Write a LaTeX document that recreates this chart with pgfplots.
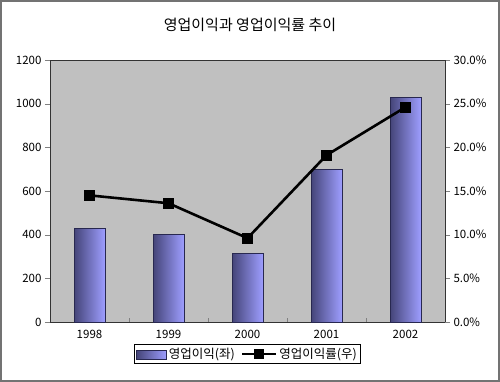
\documentclass[border=0pt]{standalone}
\usepackage{pgfplots}
\pgfplotsset{compat=1.18}
\usepackage{fontspec}
\setmainfont{Noto Sans CJK KR}
\definecolor{plotgray}{RGB}{192,192,192}
\definecolor{bardark}{RGB}{68,68,120}
\definecolor{barlight}{RGB}{158,158,255}
\definecolor{barmid}{RGB}{140,140,230}
\definecolor{baredge}{RGB}{40,40,80}
\begin{document}
\begin{tikzpicture}[x=1pt,y=1pt]
\draw[line width=2pt, black!55] (1,-1) rectangle (499,-381);
\node[font=\fontsize{15}{17}\selectfont] at (250,-25) {영업이익과 영업이익률 추이};
\begin{axis}[
  at={(50pt,-322pt)}, anchor=south west,
  scale only axis, width=395pt, height=262pt,
  xmin=-0.5, xmax=4.5, ymin=0, ymax=1200,
  ytick={0,200,...,1200},
  xtick={0,1,2,3,4}, xticklabels={1998,1999,2000,2001,2002},
  major x tick style={draw=none},
  minor xtick={0.5,1.5,2.5,3.5},
  minor x tick style={yshift=4pt},
  minor tick length=4pt,
  major tick length=5pt,
  tick align=outside,
  ytick pos=left, xtick pos=bottom,
  axis line style={black!80},
  axis background/.style={fill=plotgray},
  tick label style={font=\fontsize{11.5}{13}\selectfont},
  /pgf/number format/assume math mode=true,
  /pgf/number format/1000 sep={},
  mybar/.style={ybar, bar width=31pt, draw=baredge, line width=0.6pt, left color=bardark, middle color=barmid, right color=barlight, mark=none},
]
\addplot[mybar] coordinates {(0,430)};
\addplot[mybar] coordinates {(1,403)};
\addplot[mybar] coordinates {(2,316)};
\addplot[mybar] coordinates {(3,700)};
\addplot[mybar] coordinates {(4,1030)};
\end{axis}
\begin{axis}[
  at={(50pt,-322pt)}, anchor=south west,
  scale only axis, width=395pt, height=262pt,
  xmin=-0.5, xmax=4.5, ymin=0, ymax=30,
  axis y line*=right, hide x axis,
  axis line style={black!80},
  ytick={0,5,10,15,20,25,30},
  yticklabels={0.0\%,5.0\%,10.0\%,15.0\%,20.0\%,25.0\%,30.0\%},
  tick align=outside, major tick length=5pt,
  tick label style={font=\fontsize{11.5}{13}\selectfont},
  legend columns=2,
  legend style={at={(0.5,-0.085)}, anchor=north, draw=black, line width=0.8pt,
    font=\fontsize{12.5}{14}\selectfont, inner sep=1.5pt,
    /tikz/every even column/.append style={column sep=4pt}},
]
\addlegendimage{legend image code/.code={\draw[draw=baredge, line width=0.6pt, left color=bardark, middle color=barmid, right color=barlight] (0pt,-5pt) rectangle (30pt,4pt);}}
\addlegendentry{영업이익(좌)}
\addplot[black, line width=2.6pt, mark=square*, mark size=4.8pt,
  mark options={line width=0.5pt},
  legend image code/.code={\draw[black, line width=2.6pt] (0pt,0pt) -- (34pt,0pt); \fill[black] (13pt,-4pt) rectangle (21pt,4pt);}]
  coordinates {(0,14.5)(1,13.6)(2,9.6)(3,19.1)(4,24.6)};
\addlegendentry{영업이익률(우)}
\end{axis}
\end{tikzpicture}
\end{document}
